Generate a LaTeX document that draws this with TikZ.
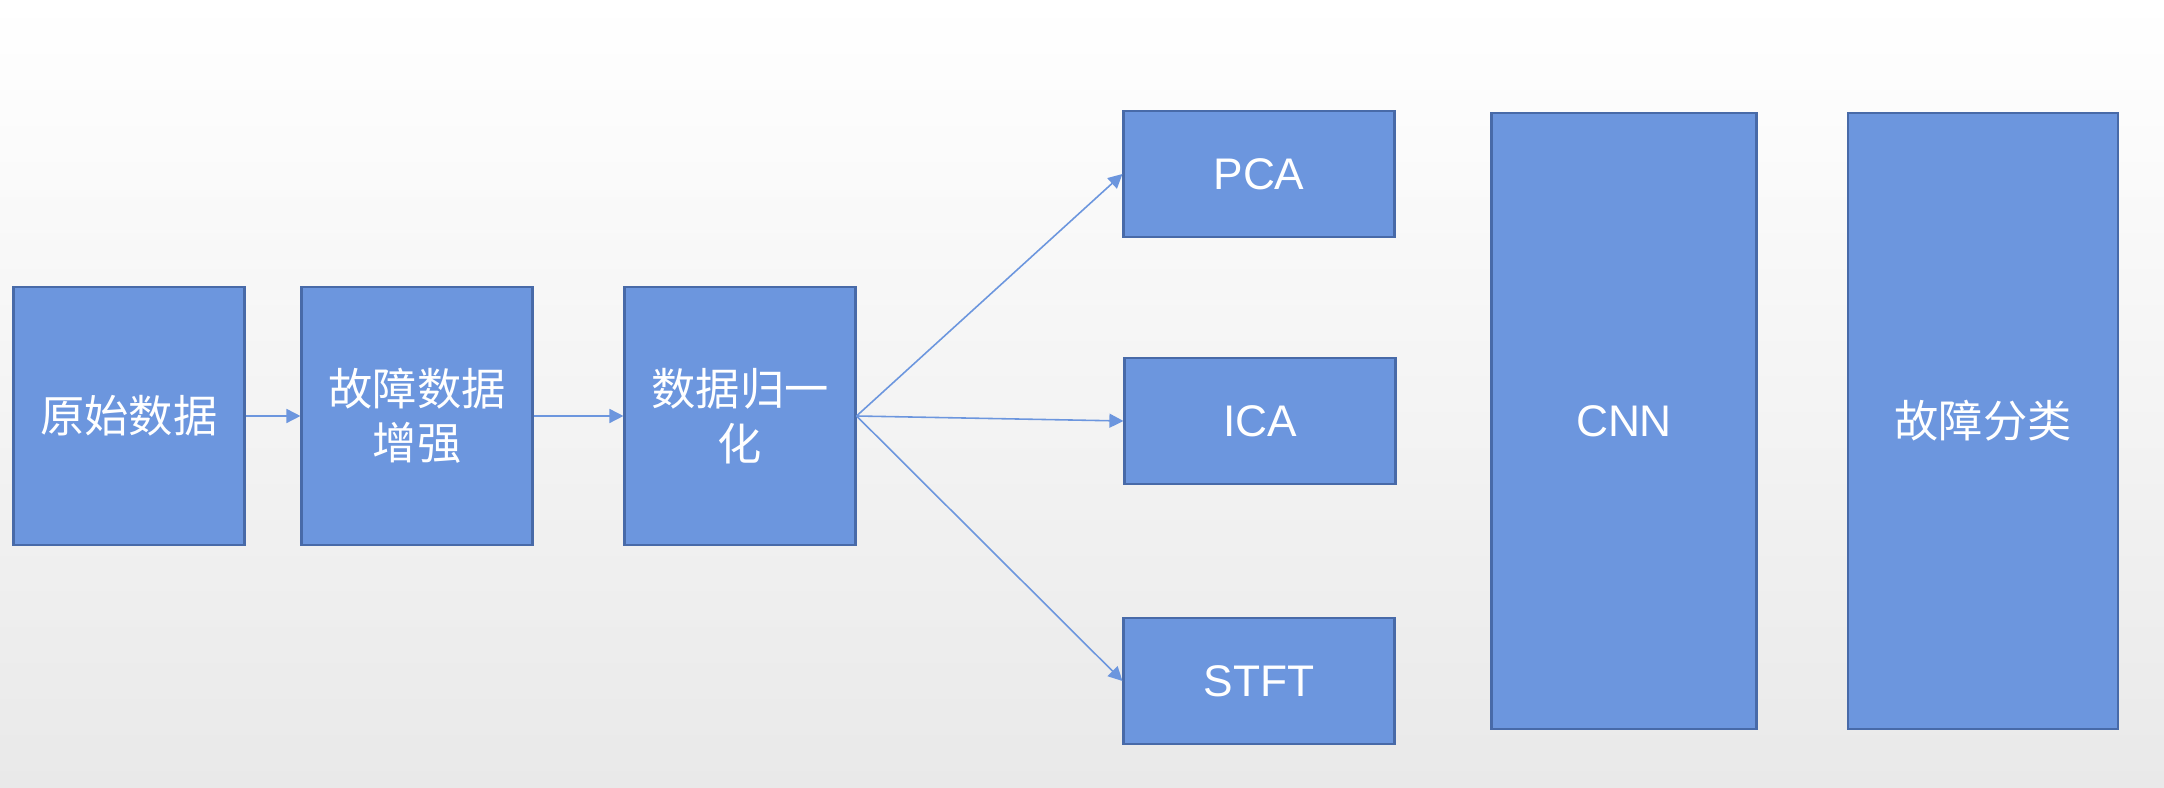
\documentclass[tikz,border=0pt]{standalone}
\usepackage{fontspec}
\setmainfont{Liberation Sans}
\newfontfamily\cjk{Noto Sans CJK SC}
\usetikzlibrary{arrows.meta}
\definecolor{boxfill}{RGB}{108,150,222}
\definecolor{boxline}{RGB}{72,106,168}
\definecolor{bggray}{RGB}{233,233,233}
\tikzset{
    block/.style={draw=boxline, line width=0.6pt, fill=boxfill, text=white, inner sep=0pt,
        align=center, font=\fontsize{12.6}{15.5}\selectfont},
    flow/.style={boxfill, line width=0.45pt, -{Triangle[length=4pt,width=4pt]}}
}
\begin{document}
\begin{tikzpicture}
    \shade[top color=white, bottom color=bggray] (0,0) rectangle (21.64,7.88);
    % pipeline
    \node[block, minimum width=2.31cm, minimum height=2.58cm] (raw) at (1.29,3.72) {\cjk 原始数据};
    \node[block, minimum width=2.31cm, minimum height=2.58cm] (aug) at (4.17,3.72) {\cjk 故障数据\\\cjk 增强};
    \node[block, minimum width=2.31cm, minimum height=2.58cm] (norm) at (7.40,3.72) {\cjk 数据归一\\\cjk 化};
    % feature extraction
    \node[block, minimum width=2.71cm, minimum height=1.26cm] (pca) at (12.59,6.14) {PCA};
    \node[block, minimum width=2.71cm, minimum height=1.26cm] (ica) at (12.60,3.67) {ICA};
    \node[block, minimum width=2.71cm, minimum height=1.26cm] (stft) at (12.59,1.07) {STFT};
    \node[block, minimum width=2.65cm, minimum height=6.16cm] (cnn) at (16.24,3.67) {CNN};
    \node[block, minimum width=2.70cm, minimum height=6.16cm] (cls) at (19.83,3.67) {\cjk 故障分类};
    \draw[flow] (raw) -- (aug);
    \draw[flow] (aug) -- (norm);
    \draw[flow] (norm.east) -- (pca.west);
    \draw[flow] (norm.east) -- (ica.west);
    \draw[flow] (norm.east) -- (stft.west);
\end{tikzpicture}
\end{document}
